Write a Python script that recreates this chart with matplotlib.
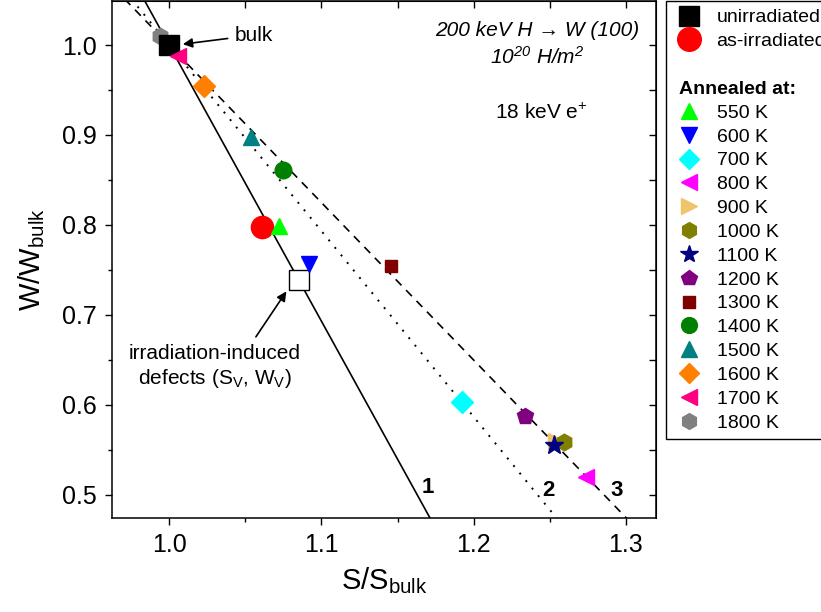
import numpy as np
import matplotlib
matplotlib.use('Agg')
import matplotlib.pyplot as plt
from matplotlib.lines import Line2D

plt.rcParams['font.family'] = ['Liberation Sans', 'DejaVu Sans']
plt.rcParams['mathtext.fontset'] = 'custom'
plt.rcParams['mathtext.rm'] = 'Liberation Sans'
plt.rcParams['mathtext.it'] = 'Liberation Sans:italic'
plt.rcParams['mathtext.default'] = 'regular'

# reference points
bulk = (1.0, 1.0)
as_irr = (1.061, 0.798)
defects = (1.085, 0.739)

# annealed samples
temps = ['550 K', '600 K', '700 K', '800 K', '900 K', '1000 K', '1100 K',
         '1200 K', '1300 K', '1400 K', '1500 K', '1600 K', '1700 K', '1800 K']
S = [1.072, 1.092, 1.192, 1.274, 1.254, 1.259, 1.253,
     1.234, 1.146, 1.075, 1.054, 1.023, 1.006, 0.994]
W = [0.799, 0.756, 0.603, 0.520, 0.560, 0.558, 0.555,
     0.587, 0.754, 0.861, 0.898, 0.954, 0.988, 1.010]
markers = ['^', 'v', 'D', '<', '>', 'h', '*', 'p', 's', 'o', '^', 'D', '<', 'h']
colors = ['#00ff00', '#0000ff', '#00ffff', '#ff00ff', '#f0c46c', '#808000', '#000080',
          '#800080', '#800000', '#008000', '#008080', '#ff8000', '#ff0080', '#808080']
msizes = [12, 12, 11, 12, 12, 12, 14, 12, 9, 12, 12, 11, 12, 12]

# straight lines through bulk point: slopes of lines 1, 2, 3
slope1 = (defects[1] - bulk[1]) / (defects[0] - bulk[0])
slope2 = (0.603 - 1.0) / (1.192 - 1.0)
slope3 = (0.520 - 1.0) / (1.274 - 1.0)

fig = plt.figure(figsize=(8.21, 6.12), dpi=100)
ax = fig.add_axes([112/821, 1 - 518/612, (656-112)/821, (518-1)/612])
xlim = (0.9625, 1.3197)
ylim = (0.474, 1.049)

xs = np.array([0.9, 1.4])
ax.plot(xs, bulk[1] + slope1*(xs - bulk[0]), 'k-', lw=1.2, zorder=1)
ax.plot(xs, bulk[1] + slope2*(xs - bulk[0]), 'k', ls=(0, (1, 4)), lw=1.4, zorder=1)
ax.plot(xs, bulk[1] + slope3*(xs - bulk[0]), 'k', ls=(0, (5, 4)), lw=1.2, zorder=1)

h_un, = ax.plot(*bulk, 's', color='k', ms=14, zorder=4)
h_as, = ax.plot(*as_irr, 'o', color='red', ms=16, zorder=3)
ax.plot(*defects, 's', mfc='white', mec='k', mew=1.0, ms=14, zorder=3)
anneal_h = []
for i in range(len(temps)):
    z = 5 if temps[i] == '1700 K' else 3
    if temps[i] == '1800 K':
        z = 2
    h, = ax.plot(S[i], W[i], marker=markers[i], color=colors[i], ms=msizes[i],
                 ls='none', zorder=z)
    anneal_h.append(h)

ax.set_xticks([1.0, 1.1, 1.2, 1.3])
ax.set_yticks([0.5, 0.6, 0.7, 0.8, 0.9, 1.0])
ax.set_xticks(np.arange(0.95, 1.33, 0.05), minor=True)
ax.set_yticks(np.arange(0.5, 1.05, 0.05), minor=True)
ax.tick_params(which='major', direction='out', length=5, width=1, labelsize=18, pad=6)
ax.tick_params(which='minor', direction='out', length=3, width=1)
for sp in ax.spines.values():
    sp.set_linewidth(1.1)

# mirrored inward ticks on top and right
top = ax.secondary_xaxis('top')
top.set_xticks(np.arange(0.95, 1.33, 0.05))
top.tick_params(direction='in', length=5, width=1, labeltop=False)
right = ax.secondary_yaxis('right')
right.set_yticks(np.arange(0.5, 1.05, 0.05))
right.tick_params(direction='in', length=5, width=1, labelright=False)

# limits last, set_ticks would otherwise widen them
ax.set_xlim(*xlim)
ax.set_ylim(*ylim)

ax.set_xlabel('S/S$_{bulk}$', fontsize=21, labelpad=6)
ax.set_ylabel('W/W$_{bulk}$', fontsize=21, labelpad=11)

ax.annotate('bulk', xy=(1.009, 1.001), xytext=(1.043, 1.011), fontsize=15,
            ha='left', va='center',
            arrowprops=dict(arrowstyle='-|>', color='k', lw=1.2, shrinkA=3, shrinkB=0,
                            mutation_scale=14))
ax.annotate('irradiation-induced\ndefects (S$_V$, W$_V$)', xy=(1.077, 0.726),
            xytext=(1.030, 0.642), fontsize=15, ha='center', va='center',
            linespacing=1.2,
            arrowprops=dict(arrowstyle='-|>', color='k', lw=1.2, shrinkA=4, shrinkB=0,
                            relpos=(0.71, 1.0), mutation_scale=14))

ax.text(1.2418, 1.0167, '200 keV H \u2192 W (100)', style='italic',
        fontsize=15, ha='center', va='center')
ax.text(1.2418, 0.9867, r'10$^{20}$ H/m$^{2}$', style='italic',
        fontsize=15, ha='center', va='center')
ax.text(1.2444, 0.9244, '18 keV e$^{+}$', fontsize=15, ha='center', va='center')

ax.text(1.170, 0.508, '1', fontsize=16, fontweight='bold', ha='center', va='center')
ax.text(1.249, 0.505, '2', fontsize=16, fontweight='bold', ha='center', va='center')
ax.text(1.294, 0.505, '3', fontsize=16, fontweight='bold', ha='center', va='center')

blank = Line2D([], [], ls='none')
title_h = Line2D([], [], ls='none')
leg_handles = [h_un, h_as, blank, title_h] + anneal_h
leg_labels = ['unirradiated', 'as-irradiated', ' ', 'Annealed at:'] + temps
leg = fig.legend(leg_handles, leg_labels, loc='upper left',
                 bbox_to_anchor=(666/821, 1 - 1/612), fontsize=14, frameon=True,
                 fancybox=False, edgecolor='k', framealpha=1, borderpad=0.4,
                 labelspacing=0.32, handlelength=1.6, handletextpad=0.6,
                 markerscale=0.95, borderaxespad=0)
leg.get_frame().set_linewidth(1.0)
leg.legend_handles[0].set_markersize(15)
leg.legend_handles[1].set_markersize(17)
title_txt = leg.get_texts()[3]
title_txt.set_color('none')

fig.canvas.draw()
bb = title_txt.get_window_extent()
yc = (bb.y0 + bb.y1) / 2 / fig.bbox.height
title_txt.set_text(' ')
fig.text(679/821, yc, 'Annealed at:', fontsize=14, fontweight='bold',
         va='center', ha='left', zorder=10)

fig.savefig('out.png', dpi=100)
